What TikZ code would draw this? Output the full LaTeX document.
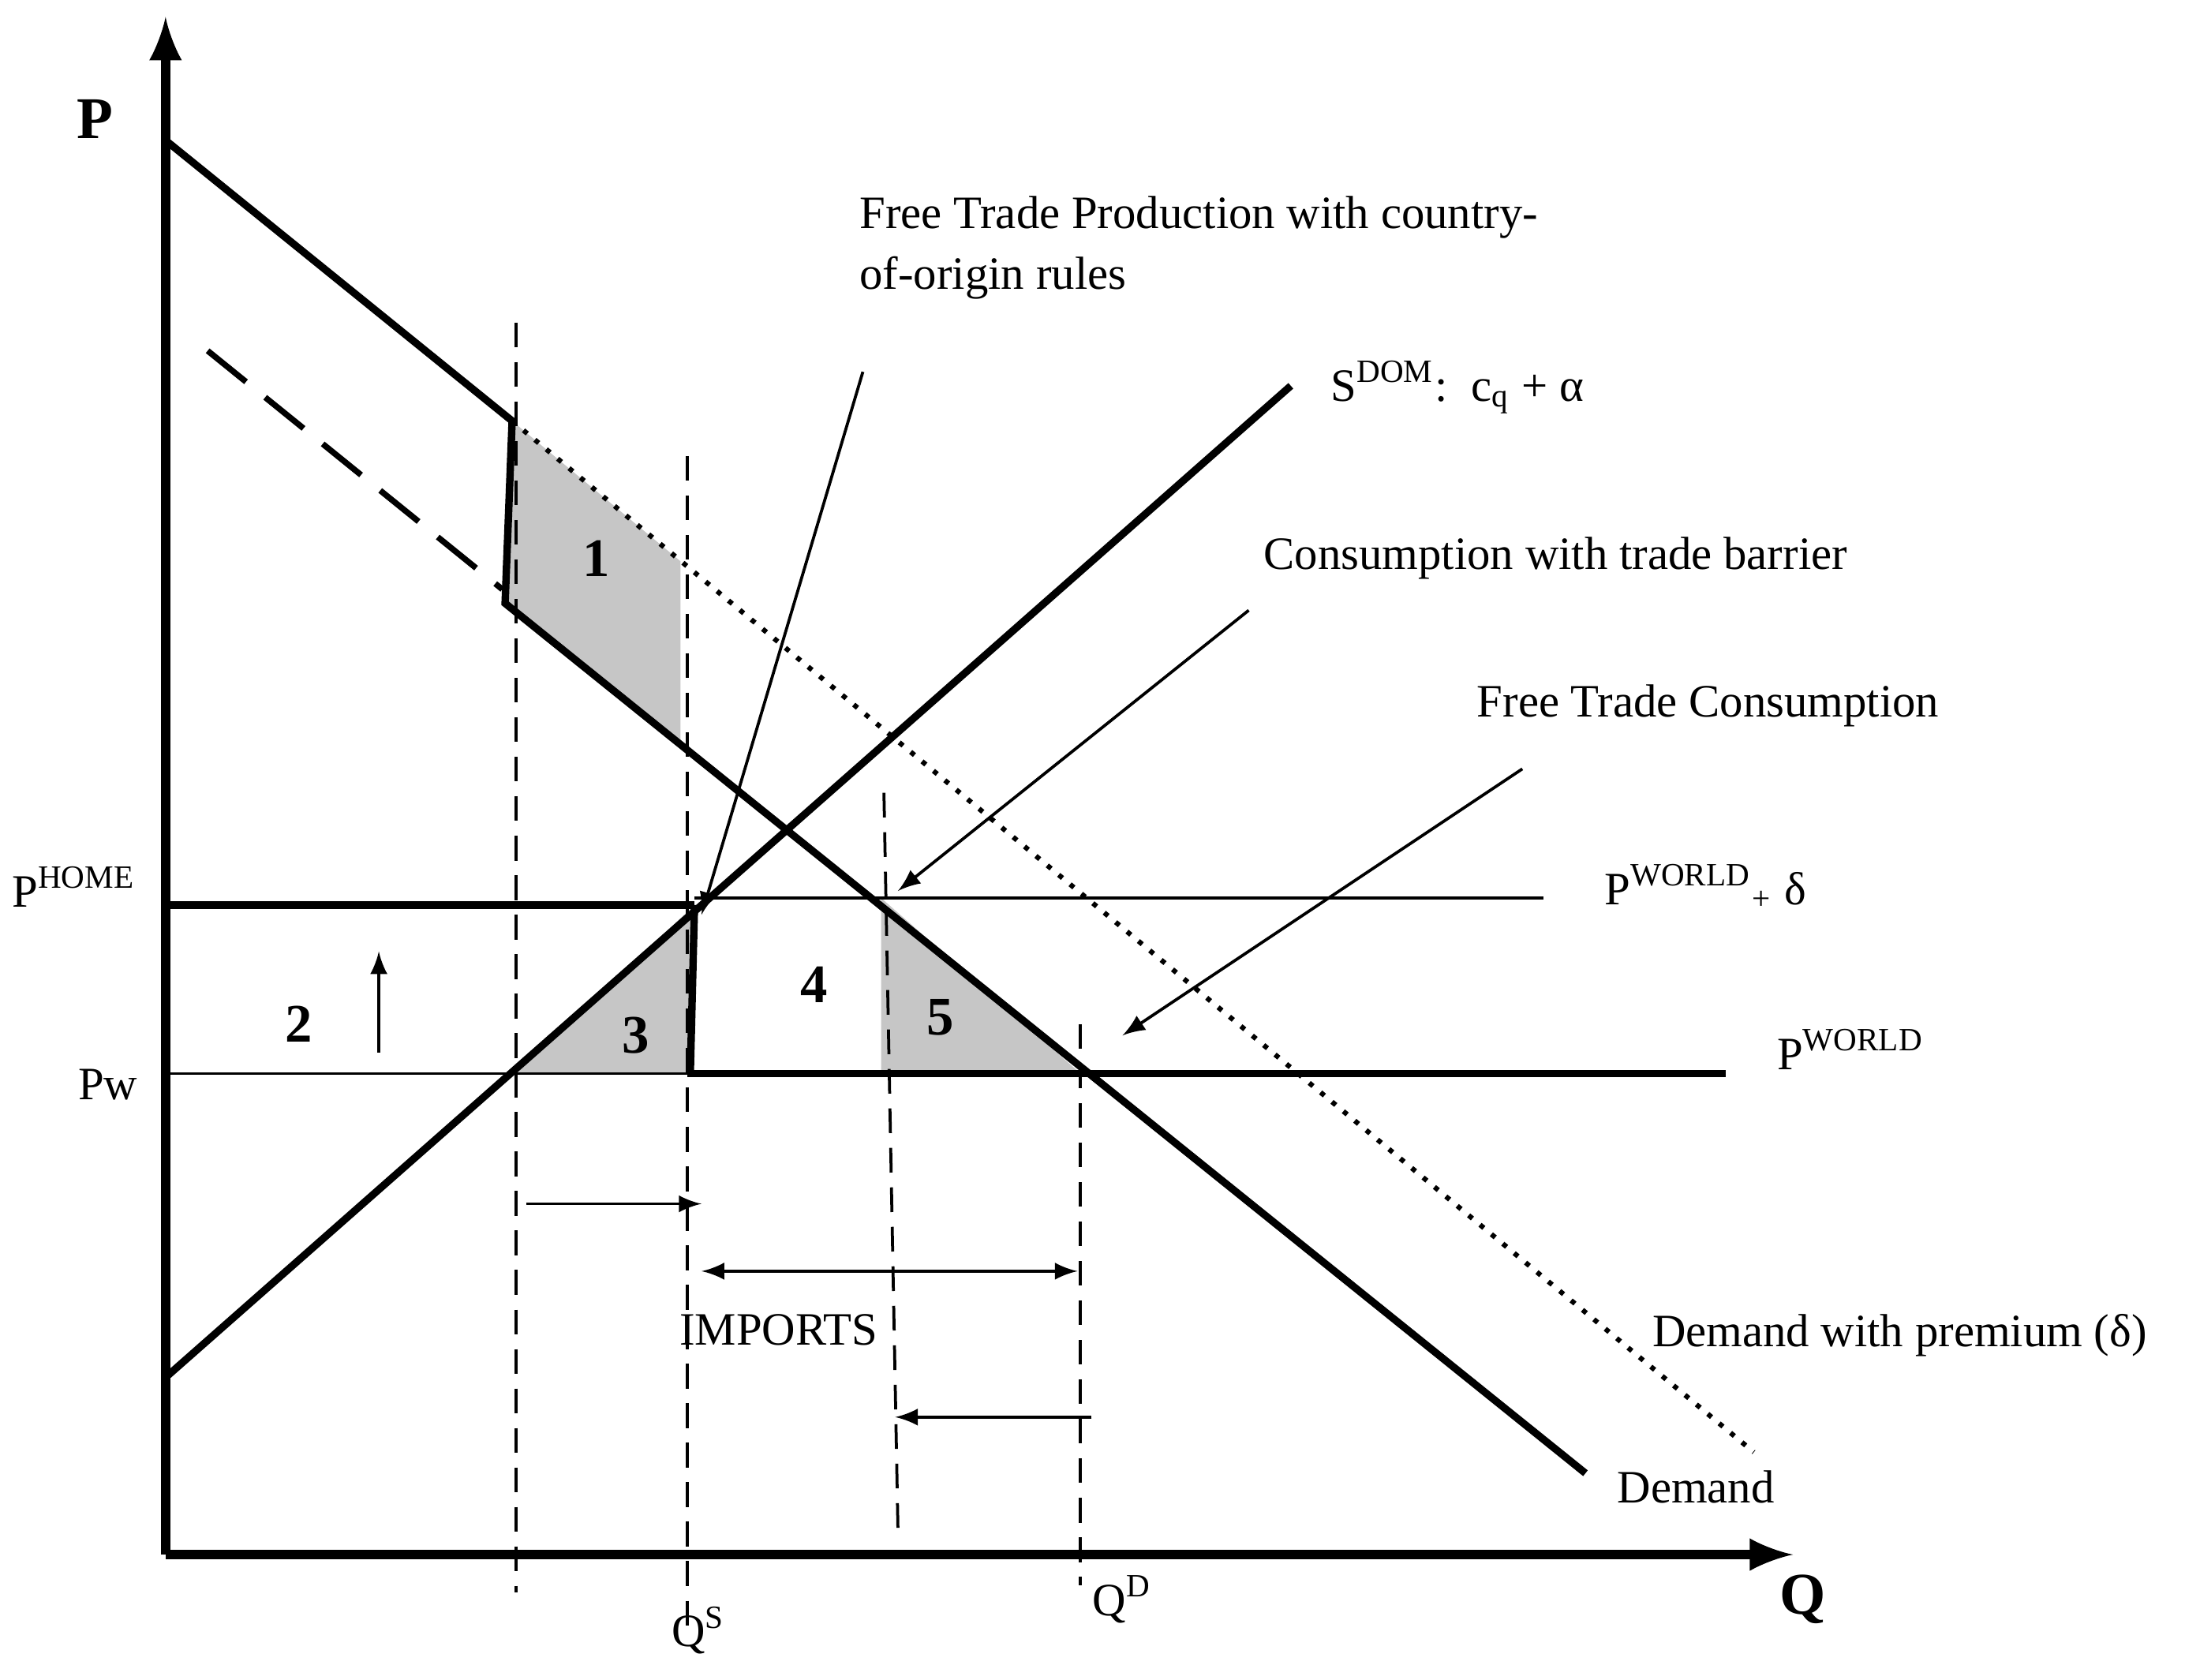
\documentclass[tikz,border=0pt]{standalone}
\usepackage{fontspec}
\setmainfont{Liberation Serif}
\begin{document}
\begin{tikzpicture}[x=0.01cm,y=-0.01cm,font=\fontsize{9.4}{11}\selectfont,
 thk/.style={line width=1.5pt},
 thn/.style={line width=0.5pt},
 vd/.style={line width=0.6pt,dash pattern=on 5pt off 3pt},
 arr/.style={line width=0.6pt,-latex},
 shade/.style={fill=gray!45},
 lbl/.style={inner sep=0pt}]
\useasboundingbox (0,0) rectangle (1568,1197);
% shaded areas
\fill[shade] (365,300) -- (360,430) -- (485,530) -- (485,400) -- cycle;
\fill[shade] (368,765) -- (492,765) -- (495,645) -- cycle;
\fill[shade] (628,640) -- (628,765) -- (770,765) -- cycle;
% axes
\coordinate (O) at (118,1108);
\coordinate (Ytop) at (118,12);
\coordinate (Xend) at (1278,1108);
\draw[line width=2pt,-latex] (O) -- (Ytop);
\draw[line width=2pt,-latex] (O) -- (Xend);
\node[lbl,font=\fontsize{12}{14}\selectfont\bfseries] (P) at (68,85) {P};
\node[lbl,font=\fontsize{12}{14}\selectfont\bfseries] (Q) at (1285,1140) {Q};
% dashed verticals
\draw[vd] (368,230) -- (368,1135);
\draw[vd] (490,325) -- (490,1160);
\draw[vd] (630,565) -- (640,1090);
\draw[vd] (770,730) -- (770,1130);
% demand
\draw[thk,line join=miter] (118,100) -- (365,300) -- (360,430) -- (1130,1050);
\draw[line width=1.2pt,dash pattern=on 10pt off 5pt] (148,250) -- (358,420);
\draw[line width=1pt,dotted] (365,300) -- (1250,1035);
% supply
\draw[thk] (120,980) -- (920,275);
% price lines
\draw[thk] (118,645) -- (495,645);
\draw[thn] (495,640) -- (1100,640);
\draw[thn] (118,765) -- (490,765);
\draw[thk] (490,765) -- (1230,765);
\draw[thk] (495,645) -- (492,765);
% arrows
\draw[arr] (270,750) -- (270,678);
\draw[arr] (375,858) -- (500,858);
\draw[latex-latex,line width=0.6pt] (500,906) -- (768,906);
\draw[arr] (778,1010) -- (638,1010);
\draw[arr] (615,265) -- (500,652);
\draw[arr] (890,435) -- (640,635);
\draw[arr] (1085,548) -- (800,738);
% region labels
\node[font=\fontsize{11}{13}\selectfont\bfseries] at (425,398) {1};
\node[font=\fontsize{11}{13}\selectfont\bfseries] at (213,730) {2};
\node[font=\fontsize{11}{13}\selectfont\bfseries] at (453,738) {3};
\node[font=\fontsize{11}{13}\selectfont\bfseries] at (580,702) {4};
\node[font=\fontsize{11}{13}\selectfont\bfseries] at (670,725) {5};
% texts
\node[lbl,anchor=west] at (612,155) {Free Trade Production with country-};
\node[lbl,anchor=west] at (612,198) {of-origin rules};
\node[lbl,anchor=west] at (948,276) {S\textsuperscript{DOM}:\ \ c\textsubscript{q} + α};
\node[lbl,anchor=west] at (900,398) {Consumption with trade barrier};
\node[lbl,anchor=west] at (1052,503) {Free Trade Consumption};
\node[lbl,anchor=west] at (1143,632) {P\textsuperscript{WORLD}\textsubscript{+} δ};
\node[lbl,anchor=west] at (1266,748) {P\textsuperscript{WORLD}};
\node[lbl,anchor=west] at (1177,952) {Demand with premium (δ)};
\node[lbl,anchor=west] at (1152,1060) {Demand};
\node[lbl,anchor=west] at (8,632) {P\textsuperscript{HOME}};
\node[lbl,anchor=west] at (55,773) {Pw};
\node[lbl] at (555,948) {IMPORTS};
\node[lbl] at (498,1162) {Q\textsuperscript{S}};
\node[lbl] at (800,1140) {Q\textsuperscript{D}};
\end{tikzpicture}
\end{document}
